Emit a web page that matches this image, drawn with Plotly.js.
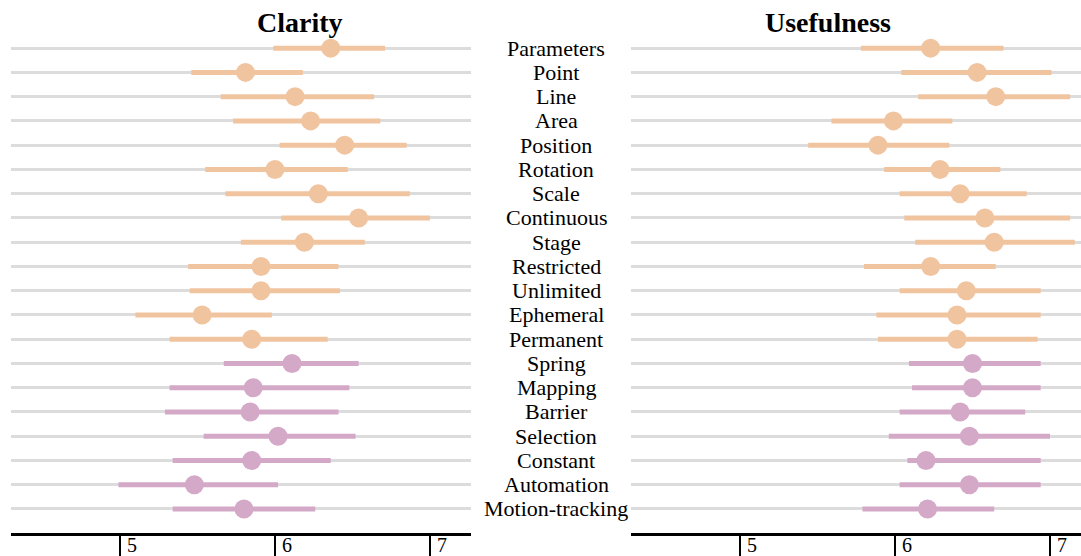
<!DOCTYPE html>
<html>
<head>
<meta charset="utf-8">
<script src="https://cdn.plot.ly/plotly-3.0.1.min.js"></script>
<style>html,body{margin:0;padding:0;background:#fff;}#chart{width:1081px;height:556px;}</style>
</head>
<body>
<div id="chart"></div>
<script>
const categories = ["Parameters","Point","Line","Area","Position","Rotation","Scale","Continuous","Stage","Restricted","Unlimited","Ephemeral","Permanent","Spring","Mapping","Barrier","Selection","Constant","Automation","Motion-tracking"];
const groupSplit = 13; // first 13 rows orange, remaining purple

const clarityMean = [6.36,5.81,6.13,6.23,6.45,6.00,6.28,6.54,6.19,5.91,5.91,5.53,5.85,6.11,5.86,5.84,6.02,5.85,5.48,5.80];
const clarityLow  = [5.99,5.46,5.65,5.73,6.03,5.55,5.68,6.04,5.78,5.44,5.45,5.10,5.32,5.67,5.32,5.29,5.54,5.34,4.99,5.34];
const clarityHigh = [6.71,6.18,6.64,6.68,6.85,6.47,6.87,7.00,6.58,6.41,6.42,5.98,6.34,6.54,6.48,6.41,6.52,6.36,6.02,6.26];

const usefulMean = [6.23,6.53,6.65,5.99,5.89,6.29,6.42,6.58,6.64,6.23,6.46,6.40,6.40,6.50,6.50,6.42,6.48,6.20,6.48,6.21];
const usefulLow  = [5.78,6.04,6.15,5.59,5.44,5.93,6.03,6.06,6.13,5.80,6.03,5.88,5.89,6.09,6.11,6.03,5.96,6.08,6.03,5.79];
const usefulHigh = [6.70,7.01,7.13,6.37,6.35,6.68,6.85,7.13,7.16,6.65,6.94,6.94,6.92,6.94,6.94,6.84,7.00,6.94,6.94,6.64];

const tickValues = [5,6,7];
const tickLabels = ["5","6","7"];
const panelTitles = ["Clarity","Usefulness"];

const orange = "#F1C4A0";
const purple = "#D3A9C7";
const FONT = "'Liberation Serif', 'Times New Roman', Times, serif";

const rowIdx = categories.map((_, i) => i);

function makeTraces(mean, low, high, xa, ya) {
  const groups = [
    {from: 0, to: groupSplit, color: orange},
    {from: groupSplit, to: categories.length, color: purple}
  ];
  return groups.map(g => {
    const m = mean.slice(g.from, g.to);
    const lo = low.slice(g.from, g.to);
    const hi = high.slice(g.from, g.to);
    return {
      type: "scatter", mode: "markers",
      x: m, y: rowIdx.slice(g.from, g.to),
      xaxis: xa, yaxis: ya,
      marker: {size: 19, color: g.color},
      error_x: {
        type: "data", symmetric: false,
        array: hi.map((h, i) => h - m[i]),
        arrayminus: m.map((v, i) => v - lo[i]),
        thickness: 5, width: 0, color: g.color
      },
      hoverinfo: "skip", showlegend: false
    };
  });
}

const traces = [
  ...makeTraces(clarityMean, clarityLow, clarityHigh, "x", "y"),
  ...makeTraces(usefulMean, usefulLow, usefulHigh, "x2", "y2")
];

const xCommon = {
  showgrid: false, zeroline: false,
  showline: true, linecolor: "#000", linewidth: 3,
  ticks: "outside", ticklen: 20, tickwidth: 2.5, tickcolor: "#000",
  tickvals: tickValues, showticklabels: false,
  fixedrange: true
};
const yCommon = {
  range: [19.99, -0.5],
  tickvals: rowIdx, showticklabels: false, ticks: "",
  showgrid: true, gridcolor: "#DCDCDC", gridwidth: 3,
  zeroline: false, showline: false, fixedrange: true
};

const annotations = categories.map((c, i) => ({
  text: c, xref: "paper", yref: "y", x: 556/1081, y: i,
  xanchor: "center", yanchor: "middle", showarrow: false,
  font: {family: FONT, size: 22, color: "#000"}
}));
["x", "x2"].forEach(xr => {
  tickValues.forEach((v, i) => {
    annotations.push({
      text: tickLabels[i], xref: xr, yref: "paper", x: v, y: 0,
      xanchor: "left", yanchor: "top", xshift: 5, yshift: 1,
      showarrow: false, font: {family: FONT, size: 20, color: "#000"}
    });
  });
});
annotations.push({
  text: "<b>" + panelTitles[0] + "</b>", xref: "paper", yref: "paper",
  x: 255/1081, y: 1, yanchor: "bottom", yshift: -4, showarrow: false,
  font: {family: FONT, size: 28, color: "#000"}
});
annotations.push({
  text: "<b>" + panelTitles[1] + "</b>", xref: "paper", yref: "paper",
  x: 893/1081, y: 1, yanchor: "bottom", yshift: -4, showarrow: false,
  font: {family: FONT, size: 28, color: "#000"}
});

const layout = {
  width: 1081, height: 556,
  margin: {l: 0, r: 0, t: 36, b: 23, pad: 0},
  paper_bgcolor: "#fff", plot_bgcolor: "#fff",
  font: {family: FONT},
  xaxis: Object.assign({}, xCommon, {domain: [11/1081, 471/1081], range: [4.297, 7.265], anchor: "y"}),
  xaxis2: Object.assign({}, xCommon, {domain: [631/1081, 1], range: [4.297, 7.2], anchor: "y2"}),
  yaxis: Object.assign({}, yCommon, {domain: [0, 1], anchor: "x"}),
  yaxis2: Object.assign({}, yCommon, {domain: [0, 1], anchor: "x2"}),
  annotations: annotations,
  showlegend: false
};

Plotly.newPlot("chart", traces, layout, {displayModeBar: false, staticPlot: true});
</script>
</body>
</html>
